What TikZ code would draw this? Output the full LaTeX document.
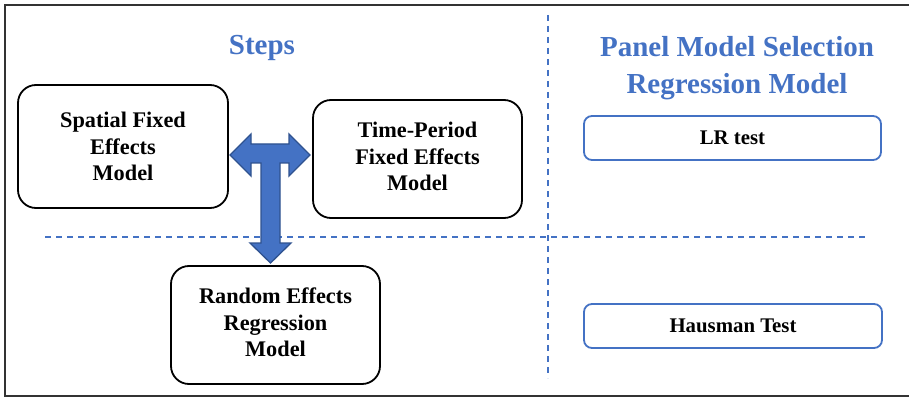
\documentclass[tikz,border=0pt]{standalone}
\usepackage{fontspec}
\setmainfont{Liberation Serif}
\definecolor{wblue}{HTML}{4472C4}
\definecolor{dblue}{HTML}{2F528F}
\definecolor{frame}{HTML}{333333}
\begin{document}
\begin{tikzpicture}[x=1pt,y=-1pt,
  stepbox/.style={draw=black,line width=1.8pt,rounded corners=18pt,align=center,
    font=\fontsize{22.3}{26.5}\selectfont\bfseries,inner sep=0pt},
  testbox/.style={draw=wblue,line width=1.8pt,rounded corners=8pt,align=center,
    font=\fontsize{20.8}{24}\selectfont\bfseries,inner sep=0pt},
  title/.style={text=wblue,align=center,font=\fontsize{29}{37}\selectfont\bfseries},
  divider/.style={draw=wblue,line width=1.1pt,dash pattern=on 6pt off 5pt}]
\useasboundingbox (0,0) rectangle (909,398);
% frame
\draw[frame,line width=2.2pt] (909,5) -- (5,5) -- (5,396) -- (909,396);
% dividers
\coordinate (vt) at (548,15);
\coordinate (vb) at (548,378);
\coordinate (hl) at (45,237);
\coordinate (hr) at (865,237);
\draw[divider] (vt) -- (vb);
\draw[divider] (hl) -- (hr);
% titles
\node[title] (steps) at (262,48) {Steps};
\node[title] (panel) at (737,68) {Panel Model Selection\\Regression Model};
% boxes
\node[stepbox,minimum width=210pt,minimum height=123pt] (spatial) at (123,146.5) {Spatial Fixed\\Effects\\Model};
\node[stepbox,minimum width=209pt,minimum height=118pt] (time) at (417.5,159) {\raisebox{3pt}{\begin{tabular}{@{}c@{}}Time-Period\\Fixed Effects\\Model\end{tabular}}};
\node[stepbox,minimum width=209pt,minimum height=118pt] (random) at (275.5,325) {\raisebox{3pt}{\begin{tabular}{@{}c@{}}Random Effects\\Regression\\Model\end{tabular}}};
\node[testbox,minimum width=297pt,minimum height=44pt] (lr) at (732.5,138) {LR test};
\node[testbox,minimum width=298pt,minimum height=44pt] (haus) at (733,326) {Hausman Test};
% T-shaped block arrow
\draw[fill=wblue,draw=dblue,line width=1.3pt,line join=miter]
  (230,155) -- (251,134) -- (251,144) -- (289,144) -- (289,134) -- (310,155)
  -- (289,176) -- (289,163) -- (280,163) -- (280,243) -- (291,243) -- (270.5,263)
  -- (250,243) -- (261,243) -- (261,163) -- (251,163) -- (251,176) -- cycle;
\end{tikzpicture}
\end{document}
